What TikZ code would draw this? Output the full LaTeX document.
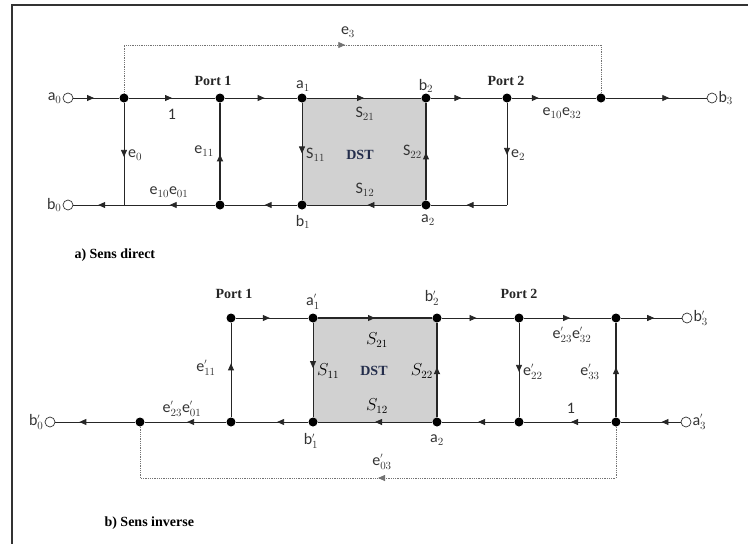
\documentclass[tikz,border=0pt]{standalone}
\usepackage{fontspec}
\setmainfont{Carlito}
\newfontfamily\portfont{Liberation Serif}
\usetikzlibrary{decorations.markings, arrows.meta, backgrounds}

\newcommand{\ix}[2]{$\mathrm{#1}_{#2}$}
\newcommand{\ixp}[2]{$\mathrm{#1}^{\scriptscriptstyle\prime}_{#2}$}
\definecolor{dstblue}{RGB}{35,45,75}

\begin{document}
\begin{tikzpicture}[x=1pt, y=-1pt,
        dot/.style={circle, fill=black, inner sep=0pt, minimum size=9pt},
        port/.style={circle, draw=black!80, fill=white, inner sep=0pt, minimum size=10pt, line width=0.7pt},
        wire/.style={line width=0.8pt, draw=black!85},
        flow/.style={postaction={decorate, decoration={markings,
            mark=at position #1 with {\arrow{Triangle[length=7pt, width=6pt]}}}}},
        flow/.default=0.5,
        loop/.style={densely dotted, line width=0.8pt, draw=black!55},
        lab/.style={font=\fontsize{16}{18}\selectfont, text=black!80, inner sep=1pt},
        title/.style={font=\portfont\bfseries\fontsize{14}{16}\selectfont, text=black!85},
        caption/.style={font=\portfont\bfseries\fontsize{14}{16}\selectfont, anchor=west}]
    \useasboundingbox (0,0) rectangle (748,544);
    \draw[line width=1.3pt, black!80] (12,5) rectangle (760,560);

    % a) sens direct
    \node[port] (a0) at (68,98) {};
    \node[dot] (n1) at (124,98) {};
    \node[dot] (p1t) at (220,98) {};
    \node[dot] (a1) at (302,98) {};
    \node[dot] (b2) at (426,98) {};
    \node[dot] (p2t) at (507,98) {};
    \node[dot] (n3) at (601,98) {};
    \node[port] (b3) at (712,98) {};
    \node[port] (b0) at (68,205) {};
    \coordinate (c1) at (124,205);
    \node[dot] (p1b) at (220,205) {};
    \node[dot] (b1) at (302,205) {};
    \node[dot] (a2) at (426,205) {};
    \coordinate (c2) at (507,205);
    \coordinate (t1) at (124,45);
    \coordinate (t3) at (601,45);

    \begin{scope}[on background layer]
        \fill[black!18] (a1.center) rectangle (a2.center);
    \end{scope}

    \draw[wire, flow=0.45] (a0) -- (n1);
    \draw[wire, flow] (n1) -- (p1t);
    \draw[wire, flow=0.55] (p1t) -- (a1);
    \draw[wire, flow] (a1) -- (b2);
    \draw[wire, flow=0.43] (b2) -- (p2t);
    \draw[wire, flow=0.32] (p2t) -- (n3);
    \draw[wire, flow=0.63] (n3) -- (b3);
    \draw[wire, flow=0.53] (n1) -- (c1);
    \draw[wire, flow=0.51] (c1) -- (b0);
    \draw[wire, flow] (p1b) -- (c1);
    \draw[wire, line width=1.6pt, flow=0.47] (p1b) -- (p1t);
    \draw[wire, flow=0.45] (b1) -- (p1b);
    \draw[wire, flow=0.52] (a1) -- (b1);
    \draw[wire, flow=0.47] (a2) -- (b1);
    \draw[wire, line width=1.1pt, flow=0.49] (a2) -- (b2);
    \draw[wire, flow=0.51] (p2t) -- (c2);
    \draw[wire, flow=0.53] (c2) -- (a2);
    \draw[loop, flow=0.47] (n1) -- (t1) -- (t3) -- (n3);

    \node[lab, left] at (a0.west) {\ix{a}{0}};
    \node[lab, left] at (b0.west) {\ix{b}{0}};
    \node[lab, right] at (b3.east) {\ix{b}{3}};
    \node[lab] at (348,32) {\ix{e}{3}};
    \node[lab] at (172,114) {1};
    \node[lab, right] at (127,155) {\ix{e}{0}};
    \node[lab, left] at (215,151) {\ix{e}{11}};
    \node[lab] at (169,192) {\ix{e}{10}\ix{e}{01}};
    \node[title] at (213,81) {Port 1};
    \node[title] at (506,81) {Port 2};
    \node[lab] at (303,86) {\ix{a}{1}};
    \node[lab] at (303,222) {\ix{b}{1}};
    \node[lab] at (426,86) {\ix{b}{2}};
    \node[lab] at (428,220) {\ix{a}{2}};
    \node[lab] at (365,114) {\ix{S}{21}};
    \node[lab, right] at (305,155) {\ix{S}{11}};
    \node[title, text=dstblue] at (360,155) {DST};
    \node[lab, left] at (423,152) {\ix{S}{22}};
    \node[lab] at (365,190) {\ix{S}{12}};
    \node[lab] at (562,113) {\ix{e}{10}\ix{e}{32}};
    \node[lab, right] at (510,155) {\ix{e}{2}};
    \node[caption] at (71,255) {a) Sens direct};

    % b) sens inverse
    \node[dot] (q1t) at (231,318) {};
    \node[dot] (a1i) at (313,318) {};
    \node[dot] (b2i) at (437,318) {};
    \node[dot] (q2t) at (519,318) {};
    \node[dot] (m3t) at (616,318) {};
    \node[port] (b3i) at (687,318) {};
    \node[port] (b0i) at (50,422) {};
    \node[dot] (m0) at (140,422) {};
    \node[dot] (q1b) at (231,422) {};
    \node[dot] (b1i) at (313,422) {};
    \node[dot] (a2i) at (437,422) {};
    \node[dot] (q2b) at (519,422) {};
    \node[dot] (m3b) at (616,422) {};
    \node[port] (a3i) at (686,422) {};
    \coordinate (d3) at (616,478);
    \coordinate (d0) at (140,478);

    \begin{scope}[on background layer]
        \fill[black!18] (a1i.center) rectangle (a2i.center);
    \end{scope}

    \draw[wire, flow=0.47] (q1t) -- (a1i);
    \draw[wire, line width=1.1pt, flow] (a1i) -- (b2i);
    \draw[wire, flow=0.48] (b2i) -- (q2t);
    \draw[wire, flow=0.53] (q2t) -- (m3t);
    \draw[wire, flow=0.55] (m3t) -- (b3i);
    \draw[wire, flow=0.32] (a3i) -- (m3b);
    \draw[wire, flow=0.46] (m3b) -- (q2b);
    \draw[wire, flow] (q2b) -- (a2i);
    \draw[wire, flow] (a2i) -- (b1i);
    \draw[wire, flow=0.43] (b1i) -- (q1b);
    \draw[wire, flow=0.48] (q1b) -- (m0);
    \draw[wire, flow=0.7] (m0) -- (b0i);
    \draw[wire, flow=0.57] (q1b) -- (q1t);
    \draw[wire, flow=0.48] (a1i) -- (b1i);
    \draw[wire, line width=1.6pt, flow=0.53] (a2i) -- (b2i);
    \draw[wire, flow=0.52] (q2t) -- (q2b);
    \draw[wire, line width=1.1pt, flow=0.53] (m3b) -- (m3t);
    \draw[loop, flow=0.5] (m3b) -- (d3) -- (d0) -- (m0);

    \node[title] at (234,294) {Port 1};
    \node[title] at (519,294) {Port 2};
    \node[lab] at (313,302) {\ixp{a}{1}};
    \node[lab] at (311,441) {\ixp{b}{1}};
    \node[lab] at (432,298) {\ixp{b}{2}};
    \node[lab] at (437,440) {\ix{a}{2}};
    \node[lab, left] at (b0i.west) {\ixp{b}{0}};
    \node[lab, right] at (b3i.east) {\ixp{b}{3}};
    \node[lab, right] at (a3i.east) {\ixp{a}{3}};
    \node[lab] at (206,368) {\ixp{e}{11}};
    \node[lab] at (182,409) {\ixp{e}{23}\ixp{e}{01}};
    \node[lab, text=black] at (377,340) {$S_{21}$};
    \node[lab, right, text=black] at (316,371) {$S_{11}$};
    \node[title, text=dstblue] at (374,371) {DST};
    \node[lab, left, text=black] at (434,371) {$S_{22}$};
    \node[lab, text=black] at (377,406) {$S_{12}$};
    \node[lab] at (572,335) {\ixp{e}{23}\ixp{e}{32}};
    \node[lab, right] at (522,372) {\ixp{e}{22}};
    \node[lab] at (590,372) {\ixp{e}{33}};
    \node[lab] at (571,408) {1};
    \node[lab] at (382,462) {\ixp{e}{03}};
    \node[caption] at (101,523) {b) Sens inverse};
\end{tikzpicture}
\end{document}
